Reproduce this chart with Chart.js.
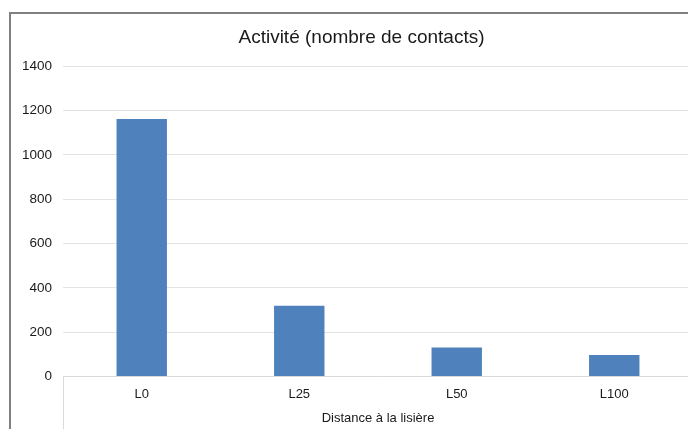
<!DOCTYPE html>
<html>
<head>
<meta charset="utf-8">
<script src="https://cdn.jsdelivr.net/npm/chart.js@4"></script>
<style>
  html, body { margin: 0; padding: 0; background: #fff; overflow: hidden; }
  #wrap { position: absolute; left: 0; top: 0; width: 723px; height: 440px; }
</style>
</head>
<body>
<div id="wrap"><canvas id="myChart" width="723" height="440"></canvas></div>
<script>
const categories = ["L0", "L25", "L50", "L100"];
const contacts = [1162, 319, 131, 97];
const yTicks = [0, 200, 400, 600, 800, 1000, 1200, 1400];

// outer frame of the chart + the little separator under the x axis
const framePlugin = {
  id: "frame",
  afterLayout(chart) {
    // centre the title on the whole frame, not on the padded area
    const t = chart.titleBlock;
    if (t) { t.left += 15; t.right += 15; }
  },
  beforeDraw(chart) {
    const ctx = chart.ctx;
    ctx.save();
    ctx.strokeStyle = "#808080";
    ctx.lineWidth = 2;
    ctx.beginPath();
    ctx.moveTo(10, chart.height);
    ctx.lineTo(10, 13);
    ctx.lineTo(chart.width, 13);
    ctx.stroke();
    ctx.restore();
  },
  afterDraw(chart) {
    const ctx = chart.ctx;
    const a = chart.chartArea;
    ctx.save();
    ctx.strokeStyle = "#d9d9d9";
    ctx.lineWidth = 1;
    ctx.beginPath();
    ctx.moveTo(Math.round(a.left) + 0.5, a.bottom);
    ctx.lineTo(Math.round(a.left) + 0.5, chart.height);
    ctx.stroke();
    ctx.restore();
  }
};

new Chart(document.getElementById("myChart").getContext("2d"), {
  type: "bar",
  data: {
    labels: categories,
    datasets: [{
      data: contacts,
      backgroundColor: "#4f81bd",
      borderWidth: 0,
      categoryPercentage: 0.32,
      barPercentage: 1
    }]
  },
  options: {
    responsive: false,
    animation: false,
    layout: { padding: { left: 0, right: 30, top: 0, bottom: 0 } },
    plugins: {
      legend: { display: false },
      tooltip: { enabled: false },
      title: {
        display: true,
        text: "Activité (nombre de contacts)",
        color: "#1a1a1a",
        font: { family: "Liberation Sans", size: 19, weight: "normal" },
        padding: { top: 26, bottom: 17.5 }
      }
    },
    scales: {
      x: {
        grid: { display: false, drawTicks: false },
        border: { display: true, color: "#d9d9d9", width: 1 },
        ticks: {
          color: "#1a1a1a",
          font: { family: "Liberation Sans", size: 13 },
          padding: 10
        },
        title: {
          display: true,
          text: "Distance à la lisière",
          color: "#1a1a1a",
          font: { family: "Liberation Sans", size: 13 },
          padding: { top: 4, bottom: 14 }
        },
        afterFit(scale) { scale.height = 63.5; }
      },
      y: {
        min: 0,
        max: 1400,
        afterBuildTicks(scale) { scale.ticks = yTicks.map(v => ({ value: v })); },
        grid: { color: "#e3e3e3", drawTicks: false },
        border: { display: false },
        ticks: {
          color: "#1a1a1a",
          font: { family: "Liberation Sans", size: 13.5 },
          padding: 11,
          callback: v => String(v)
        },
        afterFit(scale) { scale.width = 63; }
      }
    }
  },
  plugins: [framePlugin]
});
</script>
</body>
</html>
